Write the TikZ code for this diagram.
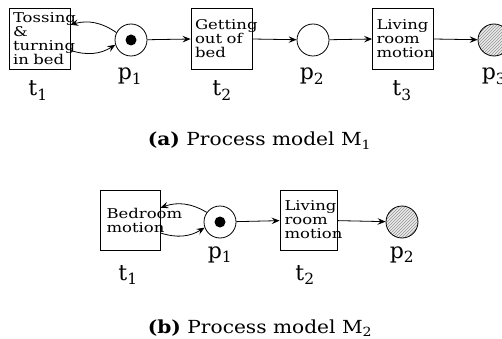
\documentclass[tikz,border=0pt]{standalone}
\usepackage{fontspec}
\setmainfont{DejaVu Serif}
\newfontfamily\boxserif{DejaVu Serif}[FakeStretch=1.22]
\newfontfamily\capserif{DejaVu Serif}[FakeStretch=1.12]
\usetikzlibrary{arrows.meta,patterns}
\newcommand\transfont{\boxserif\fontsize{13.5pt}{14pt}\selectfont\hyphenpenalty=10000\exhyphenpenalty=10000 }
\newcommand\labfont{\fontsize{22pt}{24pt}\selectfont}
\newcommand\capfont{\capserif\fontsize{18pt}{20pt}\selectfont}
\begin{document}
\begin{tikzpicture}[x=1pt,y=1pt,line width=0.8pt,
  trans/.style={draw,rectangle,minimum height=61pt,inner ysep=0pt,inner xsep=4pt,
                text width=53pt,font=\transfont},
  place/.style={draw,circle,minimum size=32pt,inner sep=0pt},
  final/.style={place,preaction={fill=gray!15},pattern=north east lines,pattern color=gray!85},
  token/.style={fill,circle,minimum size=11pt,inner sep=0pt},
  lab/.style={font=\labfont,anchor=base,inner sep=0pt},
  captext/.style={font=\capfont,anchor=base,inner sep=0pt},
  arc/.style={-{Stealth[length=8pt,width=6.5pt,inset=3pt]}}]
\useasboundingbox (0,0) rectangle (502,-339);

% ---- process model M1 ----
\node[trans] (a1) at (39.5,-38.5) {Tossing \& turning in bed};
\node[place] (ap1) at (131,-40) {};
\node[token] (ak1) at (ap1.center) {};
\node[trans] (a2) at (221.5,-38.5) {Getting out of bed};
\node[place] (ap2) at (313,-40) {};
\node[trans] (a3) at (403,-38.5) {Living room motion};
\node[final] (ap3) at (494,-40) {};

\node[lab] (la1) at (38,-96) {t\textsubscript{1}};
\node[lab] (lap1) at (130,-80) {p\textsubscript{1}};
\node[lab] (la2) at (222,-96) {t\textsubscript{2}};
\node[lab] (lap2) at (312,-80) {p\textsubscript{2}};
\node[lab] (la3) at (402,-96) {t\textsubscript{3}};
\node[lab] (lap3) at (494,-80) {p\textsubscript{3}};

\draw[arc] (ap1.153) to[bend right=25] (a1.24);
\draw[arc] (a1.-21) to[bend right=25] (ap1.197);
\draw[arc] (ap1) -- (a2);
\draw[arc] (a2) -- (ap2);
\draw[arc] (ap2) -- (a3);
\draw[arc] (a3) -- (ap3);

\node[captext] (capa) at (259.5,-146) {\textbf{(a)} Process model M\textsubscript{1}};

% ---- process model M2 ----
\node[trans,minimum height=60pt,text width=47pt,inner xsep=6.5pt] (b1) at (130,-220) {Bedroom motion};
\node[place] (bp1) at (220,-222) {};
\node[token] (bk1) at (bp1.center) {};
\node[trans,minimum height=60pt,text width=48pt,inner xsep=4.5pt] (b2) at (308.5,-220) {Living room motion};
\node[final] (bp2) at (402,-222) {};

\node[lab] (lb1) at (128,-280) {t\textsubscript{1}};
\node[lab] (lbp1) at (220,-258) {p\textsubscript{1}};
\node[lab] (lb2) at (305,-280) {t\textsubscript{2}};
\node[lab] (lbp2) at (402,-258) {p\textsubscript{2}};

\draw[arc] (bp1.144) to[bend right=25] (b1.22);
\draw[arc] (b1.-23) to[bend right=25] (bp1.200);
\draw[arc] (bp1) -- (b2);
\draw[arc] (b2) -- (bp2);

\node[captext] (capb) at (260,-333) {\textbf{(b)} Process model M\textsubscript{2}};
\end{tikzpicture}
\end{document}
